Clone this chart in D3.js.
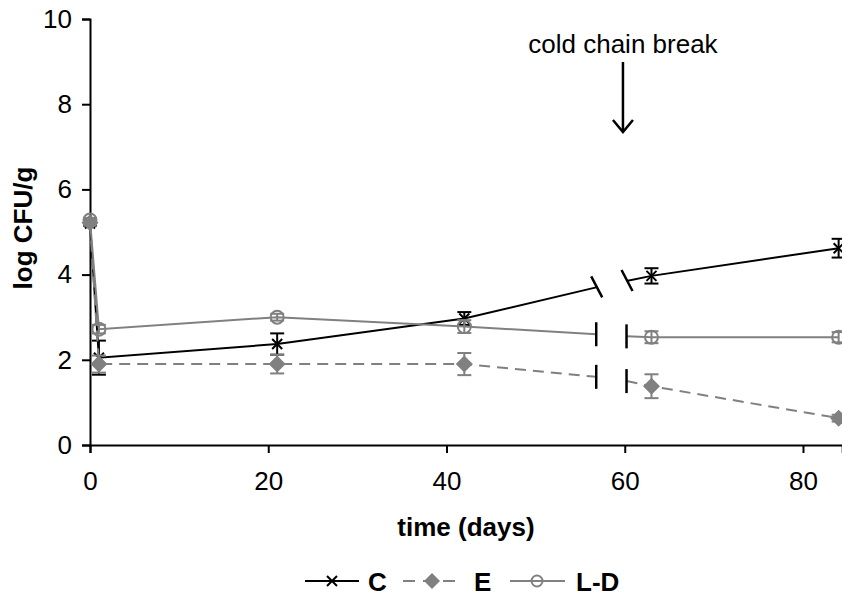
<!DOCTYPE html>
<html><head><meta charset="utf-8">
<script src="https://cdn.jsdelivr.net/npm/d3@7"></script>
<style>body{margin:0;background:#fff}svg{display:block;font-family:"Liberation Sans",Arial,sans-serif}</style>
</head><body>
<svg id="chart" width="842" height="600"></svg>
<script>
const days = [0, 1, 21, 42, 63, 84];
const cValues = [5.2, 2.05, 2.37, 2.97, 3.97, 4.62];
const cErrors = [0.05, 0.4, 0.25, 0.15, 0.18, 0.22];
const eValues = [5.22, 1.9, 1.9, 1.9, 1.38, 0.63];
const eErrors = [0.05, 0.2, 0.22, 0.26, 0.28, 0.08];
const ldValues = [5.28, 2.72, 3.0, 2.78, 2.53, 2.53];
const ldErrors = [0.05, 0.1, 0.08, 0.15, 0.14, 0.12];
const breakDays = [56.8, 60.2];
const cBreak = [3.7, 3.85];
const eBreak = [1.6, 1.5];
const ldBreak = [2.6, 2.55];
const xTicks = [0, 20, 40, 60, 80];
const yTicks = [0, 2, 4, 6, 8, 10];
const seriesNames = ["C", "E", "L-D"];
const annotation = "cold chain break";
const xTitle = "time (days)";
const yTitle = "log CFU/g";

const svg = d3.select("#chart");
const x = d3.scaleLinear().domain([0, 84.4]).range([90, 842.2]);
const y = d3.scaleLinear().domain([0, 10]).range([445, 19]);
const FS = 26;

// axes
const gx = svg.append("g").attr("transform", `translate(0,${y(0)})`)
  .call(d3.axisBottom(x).tickValues(xTicks).tickSizeOuter(0).tickSize(8).tickPadding(19));
const gy = svg.append("g").attr("transform", `translate(${x(0)},0)`)
  .call(d3.axisLeft(y).tickValues(yTicks).tickSizeOuter(0).tickSize(8).tickPadding(10));
[gx, gy].forEach(g => {
  g.selectAll("path,line").attr("stroke", "#000").attr("stroke-width", 2);
  g.selectAll("text").attr("font-size", FS).attr("fill", "#000").attr("font-family", "Liberation Sans, Arial, sans-serif");
});

svg.append("text").attr("x", 466).attr("y", 536).attr("text-anchor", "middle")
  .attr("font-size", FS).attr("font-weight", "bold").text(xTitle);
svg.append("text").attr("transform", `translate(32,228) rotate(-90)`)
  .attr("text-anchor", "middle").attr("font-size", FS).attr("font-weight", "bold").text(yTitle);

// annotation
const ax = x(59.8);
svg.append("text").attr("x", ax).attr("y", 53).attr("text-anchor", "middle")
  .attr("font-size", FS).text(annotation);
svg.append("line").attr("x1", ax).attr("x2", ax).attr("y1", 62).attr("y2", 132)
  .attr("stroke", "#000").attr("stroke-width", 2.5);
svg.append("path").attr("d", `M${ax-10},${120}L${ax},${132}L${ax+10},${120}`)
  .attr("fill", "none").attr("stroke", "#000").attr("stroke-width", 2.5);

const gray = "#808080";
const line = d3.line().x(d => x(d[0])).y(d => y(d[1]));

function drawSeries(vals, errs, brk, color, dash, markerFn, breakStyle) {
  const g = svg.append("g");
  const pre = days.map((d, i) => [d, vals[i]]).filter(p => p[0] < breakDays[0]);
  pre.push([breakDays[0], brk[0]]);
  const post = [[breakDays[1], brk[1]]].concat(days.map((d, i) => [d, vals[i]]).filter(p => p[0] > breakDays[1]));
  [pre, post].forEach(seg => g.append("path").attr("d", line(seg)).attr("fill", "none")
    .attr("stroke", color).attr("stroke-width", 2).attr("stroke-dasharray", dash));
  breakDays.forEach((bd, i) => {
    const px = x(bd), py = y(brk[i]);
    if (breakStyle === "slant") {
      g.append("line").attr("x1", px - 5).attr("y1", py - 11).attr("x2", px + 6).attr("y2", py + 10)
        .attr("stroke", "#000").attr("stroke-width", 2.5);
    } else {
      g.append("line").attr("x1", px).attr("y1", py - 12).attr("x2", px).attr("y2", py + 12)
        .attr("stroke", "#000").attr("stroke-width", 2.5);
    }
  });
  days.forEach((d, i) => {
    const px = x(d), y1 = y(vals[i] + errs[i]), y2 = y(vals[i] - errs[i]);
    g.append("line").attr("x1", px).attr("x2", px).attr("y1", y1).attr("y2", y2).attr("stroke", color).attr("stroke-width", 2);
    [y1, y2].forEach(yy => g.append("line").attr("x1", px - 7).attr("x2", px + 7).attr("y1", yy).attr("y2", yy)
      .attr("stroke", color).attr("stroke-width", 2));
  });
  days.forEach((d, i) => markerFn(g, x(d), y(vals[i])));
}

const xMarker = (g, px, py, s = 5) => g.append("path")
  .attr("d", `M${px-s},${py-s}L${px+s},${py+s}M${px-s},${py+s}L${px+s},${py-s}`)
  .attr("stroke", "#000").attr("stroke-width", 2).attr("fill", "none");
const diamond = (g, px, py, s = 8.5) => g.append("path")
  .attr("d", `M${px},${py-s}L${px+s},${py}L${px},${py+s}L${px-s},${py}Z`).attr("fill", gray);
const circle = (g, px, py, r = 6.5) => g.append("circle").attr("cx", px).attr("cy", py).attr("r", r)
  .attr("fill", "none").attr("stroke", gray).attr("stroke-width", 2);

drawSeries(cValues, cErrors, cBreak, "#000", null, xMarker, "slant");
drawSeries(eValues, eErrors, eBreak, gray, "11,7", diamond, "vert");
drawSeries(ldValues, ldErrors, ldBreak, gray, null, circle, "vert");

// legend
const ly = 581;
const leg = svg.append("g");
leg.append("line").attr("x1", 305).attr("x2", 359).attr("y1", ly).attr("y2", ly).attr("stroke", "#000").attr("stroke-width", 2);
xMarker(leg, 332, ly, 5);
leg.append("text").attr("x", 368).attr("y", ly + 10).attr("font-size", FS).attr("font-weight", "bold").text(seriesNames[0]);
leg.append("line").attr("x1", 403).attr("x2", 461).attr("y1", ly).attr("y2", ly).attr("stroke", gray).attr("stroke-width", 2).attr("stroke-dasharray", "12,8");
diamond(leg, 432, ly, 8);
leg.append("text").attr("x", 474).attr("y", ly + 10).attr("font-size", FS).attr("font-weight", "bold").text(seriesNames[1]);
leg.append("line").attr("x1", 510).attr("x2", 565).attr("y1", ly).attr("y2", ly).attr("stroke", gray).attr("stroke-width", 2);
circle(leg, 537, ly, 5.5);
leg.append("text").attr("x", 576).attr("y", ly + 10).attr("font-size", FS).attr("font-weight", "bold").text(seriesNames[2]);
</script>
</body></html>
